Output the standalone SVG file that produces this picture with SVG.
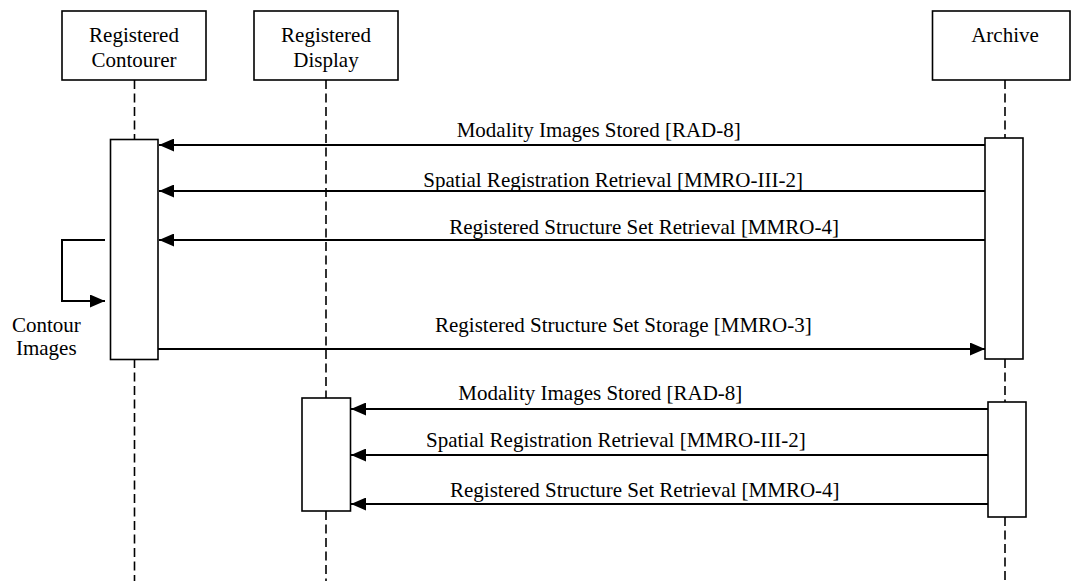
<svg xmlns="http://www.w3.org/2000/svg" width="1071" height="581" viewBox="0 0 1071 581">
<defs>
<style>
.box{fill:#fff;stroke:#000;stroke-width:1.6}
.life{stroke:#000;stroke-width:1.6;stroke-dasharray:9,4.5;fill:none}
.msg{stroke:#000;stroke-width:2;fill:none;marker-end:url(#ah)}
</style>
<marker id="ah" viewBox="0 0 15 13" refX="15" refY="6.5" markerWidth="15" markerHeight="13" markerUnits="userSpaceOnUse" orient="auto">
<path d="M0,0 L15,6.5 L0,13 Z" fill="#000"/>
</marker>
</defs>
<rect width="1071" height="581" fill="#fff"/>
<g id="lifelines">
<line class="life" x1="134.5" y1="80" x2="134.5" y2="140"/>
<line class="life" x1="134.5" y1="359" x2="134.5" y2="581"/>
<line class="life" x1="326" y1="80" x2="326" y2="398"/>
<line class="life" x1="326" y1="511" x2="326" y2="581"/>
<line class="life" x1="1005" y1="80" x2="1005" y2="138"/>
<line class="life" x1="1005" y1="359" x2="1005" y2="402"/>
<line class="life" x1="1005" y1="517" x2="1005" y2="581"/>
</g>
<g id="contourer">
<rect class="box" x="62" y="11" width="144" height="69"/>
<text x="134" y="42" font-family="Liberation Serif" font-size="21" text-anchor="middle">Registered</text>
<text x="134" y="67" font-family="Liberation Serif" font-size="21" text-anchor="middle">Contourer</text>
</g>
<g id="display">
<rect class="box" x="254" y="11" width="144" height="69"/>
<text x="326" y="42" font-family="Liberation Serif" font-size="21" text-anchor="middle">Registered</text>
<text x="326" y="67" font-family="Liberation Serif" font-size="21" text-anchor="middle">Display</text>
</g>
<g id="archive">
<rect class="box" x="932.5" y="11" width="137.5" height="69"/>
<text x="1005" y="42" font-family="Liberation Serif" font-size="21" text-anchor="middle">Archive</text>
</g>
<g id="activations">
<rect class="box" x="110.5" y="139.5" width="47.5" height="220"/>
<rect class="box" x="985" y="138" width="38" height="221"/>
<rect class="box" x="302" y="398" width="48.5" height="113"/>
<rect class="box" x="988" y="402" width="38" height="115"/>
</g>
<g id="connectors">
<line class="msg" x1="985" y1="145" x2="159" y2="145"/>
<line class="msg" x1="985" y1="191" x2="159" y2="191"/>
<line class="msg" x1="985" y1="240" x2="159" y2="240"/>
<polyline class="msg" points="105,240 62,240 62,301 105,301"/>
<line class="msg" x1="158" y1="349" x2="985" y2="349"/>
<line class="msg" x1="988" y1="409" x2="351" y2="409"/>
<line class="msg" x1="988" y1="455" x2="351" y2="455"/>
<line class="msg" x1="988" y1="504" x2="351" y2="504"/>
</g>
<g id="labels">
<text x="456.7" y="136.5" font-family="Liberation Serif" font-size="21">Modality Images Stored [RAD-8]</text>
<text x="423.3" y="187" font-family="Liberation Serif" font-size="21">Spatial Registration Retrieval [MMRO-III-2]</text>
<text x="449.3" y="233.5" font-family="Liberation Serif" font-size="21">Registered Structure Set Retrieval [MMRO-4]</text>
<text x="46.3" y="331.5" font-family="Liberation Serif" font-size="21" text-anchor="middle">Contour</text>
<text x="46.3" y="354.5" font-family="Liberation Serif" font-size="21" text-anchor="middle">Images</text>
<text x="435" y="331.5" font-family="Liberation Serif" font-size="21">Registered Structure Set Storage [MMRO-3]</text>
<text x="458.3" y="400" font-family="Liberation Serif" font-size="21">Modality Images Stored [RAD-8]</text>
<text x="426" y="446.5" font-family="Liberation Serif" font-size="21">Spatial Registration Retrieval [MMRO-III-2]</text>
<text x="450" y="496.5" font-family="Liberation Serif" font-size="21">Registered Structure Set Retrieval [MMRO-4]</text>
</g>
</svg>
